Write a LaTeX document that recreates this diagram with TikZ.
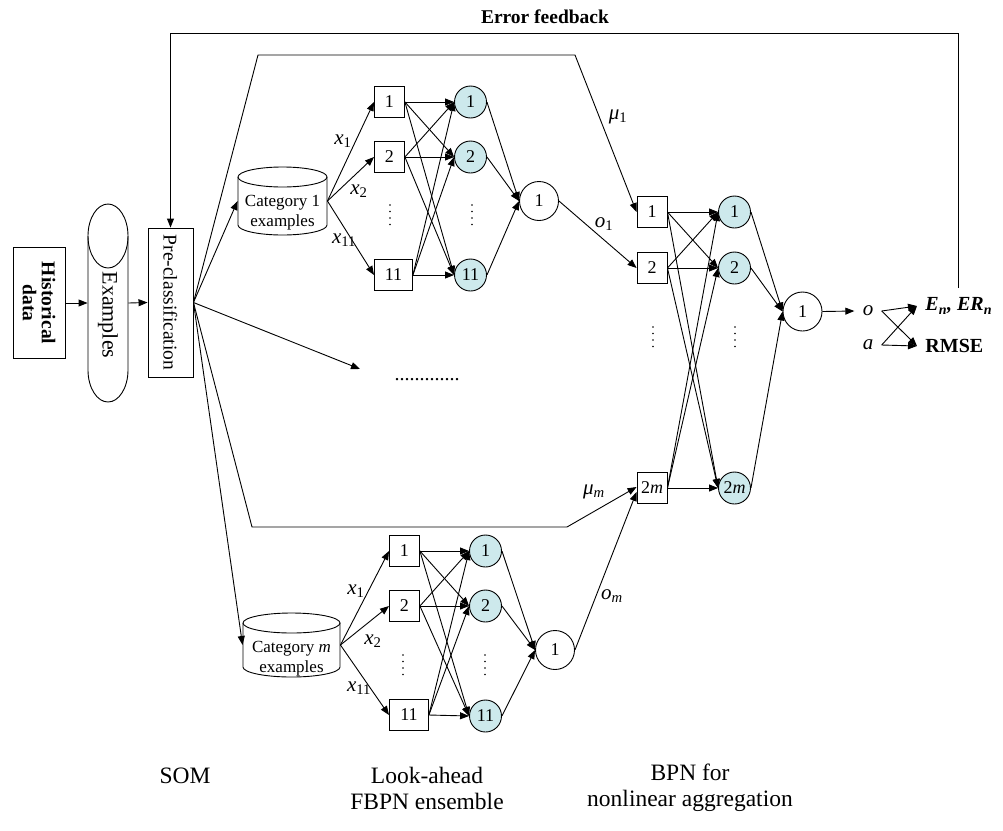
\documentclass[tikz,border=0pt]{standalone}
\usepackage{fontspec}
\setmainfont{Liberation Serif}
\usetikzlibrary{arrows.meta,calc}
\definecolor{hidc}{RGB}{205,233,236}
\begin{document}
\begin{tikzpicture}[x=1pt,y=-1pt,
  line width=0.9pt,
  arr/.style={-{Triangle[length=9pt,width=7pt]}},
  sq/.style={draw,minimum width=30pt,minimum height=31pt,inner sep=0pt,font=\fontsize{18}{20}\selectfont},
  hid/.style={draw,circle,fill=hidc,minimum size=32pt,inner sep=0pt,font=\fontsize{18}{20}\selectfont},
  outc/.style={draw,circle,fill=white,minimum size=39pt,inner sep=0pt,font=\fontsize{18}{20}\selectfont},
  lbl/.style={font=\fontsize{21}{22}\selectfont, inner sep=0pt},
  bnd/.style={inner sep=0pt},
  cattxt/.style={align=center,font=\fontsize{17}{20}\selectfont, inner sep=0pt},
  captxt/.style={font=\fontsize{23.5}{26}\selectfont, align=center},
  fbtxt/.style={font=\fontsize{20}{22}\selectfont, inner xsep=8pt, inner ysep=1pt},
]
\useasboundingbox (0,0) rectangle (1003,830);

% ---------- left part ----------
\node[draw, minimum width=52pt, minimum height=111pt, inner sep=0pt] (hist) at (39,303) {};
\node[rotate=-90, align=center, font=\bfseries\fontsize{19.5}{19}\selectfont] (histt) at (hist) {Historical\\data};

\node[bnd, minimum width=40pt, minimum height=198pt] (ex) at (108,303) {};
\draw (88,236) -- (88,370) arc[start angle=180,end angle=360,x radius=20pt,y radius=32pt] -- (128,236);
\draw (108,236) ellipse[x radius=20pt,y radius=32pt];
\node[rotate=-90, font=\fontsize{22}{22}\selectfont] (ext) at (108,315) {Examples};

\node[draw, minimum width=45pt, minimum height=149pt, inner sep=0pt] (pre) at (170.5,302.5) {};
\node[rotate=-90, font=\fontsize{19.5}{20}\selectfont] (pret) at (pre) {Pre-classification};

\draw[arr] (hist.east) -- (ex.west);
\draw[arr] (ex.east) -- (pre.west);

% ---------- category cylinders ----------
\node[bnd, minimum width=89pt, minimum height=68pt] (cat1) at (282.5,201) {};
\draw (238,177) -- (238,225) arc[start angle=180,end angle=360,x radius=44.5pt,y radius=10pt] -- (327,177);
\draw (282.5,177) ellipse[x radius=44.5pt,y radius=10pt];
\node[cattxt] (cat1t) at (282.5,213) {Category 1\\examples};

\node[bnd, minimum width=97pt, minimum height=64pt] (catm) at (291.5,645) {};
\draw (243,623) -- (243,667) arc[start angle=180,end angle=360,x radius=48.5pt,y radius=10pt] -- (340,623);
\draw (291.5,623) ellipse[x radius=48.5pt,y radius=10pt];
\node[cattxt] (catmt) at (291.5,659) {Category \textit{m}\\examples};

% ---------- top FBPN ----------
\node[sq, anchor=west] (a1) at (374,102) {1};
\node[sq, anchor=west] (a2) at (374,157) {2};
\node[sq, anchor=west, minimum width=38pt] (a11) at (374,275) {11};
\node[hid] (h1) at (470.5,102) {1};
\node[hid] (h2) at (470.5,157) {2};
\node[hid] (h11) at (470.5,275) {11};
\node[outc] (o1) at (539,201) {1};

% ---------- bottom FBPN ----------
\node[sq, anchor=west] (c1) at (389,551) {1};
\node[sq, anchor=west] (c2) at (389,606) {2};
\node[sq, anchor=west, minimum width=39pt] (c11) at (389,715) {11};
\node[hid] (k1) at (485.5,551) {1};
\node[hid] (k2) at (485.5,606) {2};
\node[hid] (k11) at (485.5,716) {11};
\node[outc] (om) at (555,650) {1};

% ---------- BPN ----------
\node[sq] (b1) at (652,212) {1};
\node[sq] (b2) at (652,268) {2};
\node[sq] (b2m) at (652,488) {2\textit{m}};
\node[hid] (g1) at (734.5,212) {1};
\node[hid] (g2) at (734.5,268) {2};
\node[hid] (g2m) at (734.5,488) {2\textit{m}};
\node[outc] (fin) at (802.5,311.5) {1};

% vertical dots
\foreach \x/\y in {390/205, 472/205, 403/655, 485/655, 653/327, 735/327}{
  \foreach \k in {0,...,3} \fill (\x,\y+6.5*\k) circle[radius=0.9pt];
}
\node[font=\fontsize{20}{20}\selectfont, inner sep=0pt] (hdots) at (427,380) {.............};

% ---------- edges FBPN ----------
\foreach \s in {a1,a2,a11} \draw[arr] (cat1.east) -- (\s.west);
\foreach \s in {a1,a2,a11} \foreach \t in {h1,h2,h11} \draw[arr] (\s.east) -- (\t.west);
\foreach \t in {h1,h2,h11} \draw[arr] (\t.east) -- (o1.west);

\foreach \s in {c1,c2,c11} \draw[arr] (catm.east) -- (\s.west);
\foreach \s in {c1,c2,c11} \foreach \t in {k1,k2,k11} \draw[arr] (\s.east) -- (\t.west);
\foreach \t in {k1,k2,k11} \draw[arr] (\t.east) -- (om.west);

\foreach \s in {b1,b2,b2m} \foreach \t in {g1,g2,g2m} \draw[arr] (\s.east) -- (\t.west);
\foreach \t in {g1,g2,g2m} \draw[arr] (\t.east) -- (fin.west);

\draw[arr] (o1.east) -- (b2.west);
\draw[arr] (om.east) -- ($(b2m.west)+(0,4)$);

% ---------- from pre-classification ----------
\coordinate (tl) at (258,55);
\coordinate (tr) at (575,55);
\coordinate (bl) at (252,527);
\coordinate (br) at (567,527);
\coordinate (mid) at (360,369);
\draw[arr] (pre.east) -- (tl) -- (tr) -- (b1.west);
\draw[arr] (pre.east) -- (bl) -- (br) -- ($(b2m.west)+(0,-1)$);
\draw[arr] (pre.east) -- (cat1.west);
\draw[arr] (pre.east) -- (mid);
\draw[arr] (pre.east) -- (catm.west);

% ---------- labels ----------
\node[lbl] at (343,141) {\textit{x}\textsubscript{1}};
\node[lbl] at (359,191) {\textit{x}\textsubscript{2}};
\node[lbl] at (344,240) {\textit{x}\textsubscript{11}};
\node[lbl] at (356,591) {\textit{x}\textsubscript{1}};
\node[lbl] at (373,641) {\textit{x}\textsubscript{2}};
\node[lbl] at (359,688) {\textit{x}\textsubscript{11}};
\node[lbl] at (618,117) {\textit{μ}\textsubscript{1}};
\node[lbl] at (604,224) {\textit{o}\textsubscript{1}};
\node[lbl] at (594,492) {\textit{μ}\textsubscript{\textit{m}}};
\node[lbl] at (612,596) {\textit{o}\textsubscript{\textit{m}}};

% ---------- output / errors ----------
\node[fbtxt, font=\fontsize{21}{22}\selectfont\itshape] (on) at (868,311) {o};
\node[fbtxt, font=\fontsize{21}{22}\selectfont\itshape] (an) at (868,345) {a};
\node[fbtxt, anchor=west, font=\fontsize{20}{22}\selectfont\bfseries\itshape] (en) at (917,306) {E\textsubscript{n}, ER\textsubscript{n}};
\node[fbtxt, anchor=west, font=\fontsize{20}{22}\selectfont\bfseries] (rmse) at (917,346) {RMSE};
\draw[arr] (fin.east) -- (on.west);
\draw[arr] (on.east) -- (en.west);
\draw[arr] (on.east) -- (rmse.west);
\draw[arr] (an.east) -- (en.west);
\draw[arr] (an.east) -- (rmse.west);

\coordinate (fb0) at (958,288);
\coordinate (fb1) at (958,33);
\coordinate (fb2) at (170.5,33);
\draw[arr] (fb0) -- (fb1) -- (fb2) -- (pre.north);
\node[font=\bfseries\fontsize{19.5}{20}\selectfont] (fbt) at (545,17) {Error feedback};

% ---------- captions ----------
\node[captxt] (som) at (185,776) {SOM};
\node[captxt] (fbpn) at (427,788) {Look-ahead\\FBPN ensemble};
\node[captxt] (bpn) at (690,788) {BPN for\\nonlinear aggregation};
\end{tikzpicture}
\end{document}
